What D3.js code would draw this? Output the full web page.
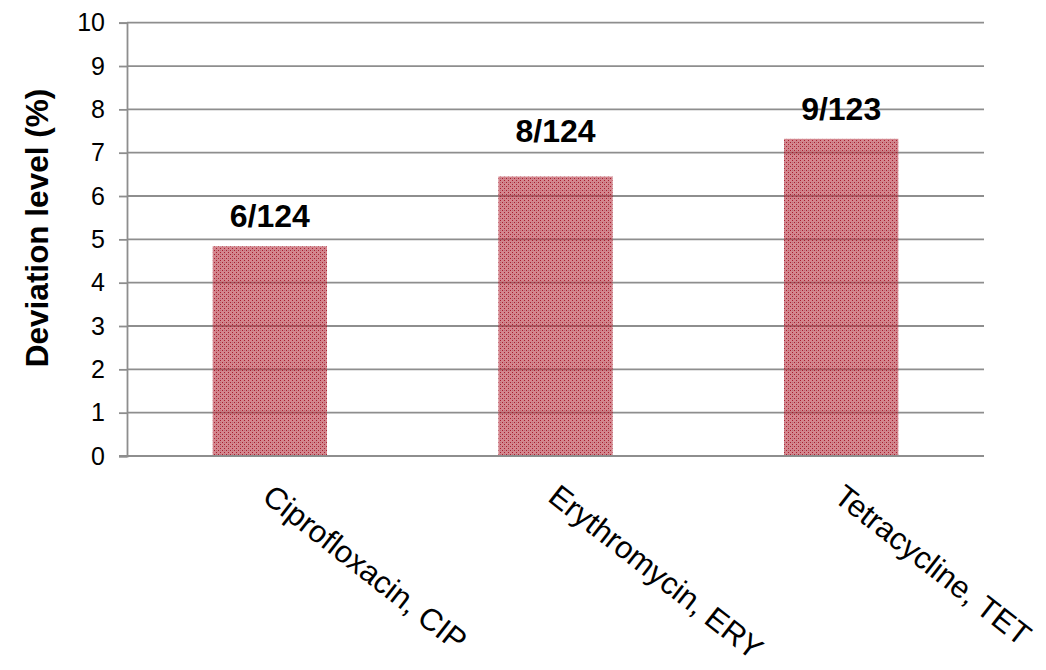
<!DOCTYPE html>
<html>
<head>
<meta charset="utf-8">
<script src="https://cdn.jsdelivr.net/npm/d3@7"></script>
<style>
  html, body { margin: 0; padding: 0; background: #fff; }
  svg { display: block; font-family: "Liberation Sans", Arial, sans-serif; }
</style>
</head>
<body>
<svg id="chart" width="1046" height="670"></svg>
<script>
// ---- data ----
const categories = ["Ciprofloxacin, CIP", "Erythromycin, ERY", "Tetracycline, TET"];
const values = [4.84, 6.45, 7.32];          // deviation level (%)
const barLabels = ["6/124", "8/124", "9/123"];
const yTicks = [0, 1, 2, 3, 4, 5, 6, 7, 8, 9, 10];
const yTitle = "Deviation level (%)";

// ---- layout ----
const labelLift = [19, 35, 19];
const svg = d3.select("#chart");
const plotLeft = 127, plotRight = 984, plotTop = 22.7, plotBottom = 456;

const x = d3.scaleBand().domain(categories).range([plotLeft, plotRight])
  .paddingInner(0.6).paddingOuter(0.3);
const y = d3.scaleLinear().domain([0, 10]).range([plotBottom, plotTop]);

// pattern for bars
const defs = svg.append("defs");
const pat = defs.append("pattern").attr("id", "dots")
  .attr("patternUnits", "userSpaceOnUse").attr("width", 4).attr("height", 4);
pat.append("rect").attr("width", 4).attr("height", 4).attr("fill", "rgb(185,60,72)").attr("fill-opacity", 0.62);
pat.append("rect").attr("x", 0).attr("y", 0).attr("width", 1).attr("height", 1).attr("fill", "rgb(160,10,30)").attr("fill-opacity", 0.85);
pat.append("rect").attr("x", 2).attr("y", 2).attr("width", 1).attr("height", 1).attr("fill", "rgb(160,10,30)").attr("fill-opacity", 0.85);
pat.append("rect").attr("x", 0).attr("y", 2).attr("width", 1).attr("height", 1).attr("fill", "rgb(150,90,95)").attr("fill-opacity", 0.5);

// gridlines
svg.append("g").selectAll("line").data(yTicks.filter(d => d > 0)).join("line")
  .attr("x1", plotLeft).attr("x2", plotRight)
  .attr("y1", d => y(d)).attr("y2", d => y(d))
  .attr("stroke", "#8e8e8e").attr("stroke-width", 1.8);

// bars (semi-transparent so gridlines show through)
svg.append("g").selectAll("rect").data(values).join("rect")
  .attr("x", (d, i) => x(categories[i]))
  .attr("width", x.bandwidth())
  .attr("y", d => y(d))
  .attr("height", d => y(0) - y(d))
  .attr("fill", "url(#dots)");

// y axis
const yAxis = d3.axisLeft(y).tickValues(yTicks).tickSize(8).tickPadding(14).tickFormat(d3.format("d"));
const gy = svg.append("g").attr("transform", `translate(${plotLeft},0)`).call(yAxis);
gy.select(".domain").attr("stroke", "#8e8e8e").attr("stroke-width", 1.8);
gy.selectAll(".tick line").attr("stroke", "#8e8e8e").attr("stroke-width", 1.8);
gy.selectAll(".tick text").attr("fill", "#000").style("font-size", "25px")
  .style("font-family", "'Liberation Sans', Arial, sans-serif");

// x axis baseline
svg.append("line").attr("x1", plotLeft - 8).attr("x2", plotRight)
  .attr("y1", y(0)).attr("y2", y(0))
  .attr("stroke", "#8e8e8e").attr("stroke-width", 1.8);

// x category labels (rotated)
svg.append("g").selectAll("text").data(categories).join("text")
  .attr("transform", d => `translate(${x(d) + x.bandwidth() / 2 - 9},500) rotate(38)`)
  .attr("text-anchor", "start")
  .style("font-size", "31px")
  .attr("fill", "#000")
  .text(d => d);

// bar value labels
svg.append("g").selectAll("text").data(values).join("text")
  .attr("x", (d, i) => x(categories[i]) + x.bandwidth() / 2)
  .attr("y", (d, i) => y(d) - labelLift[i])
  .attr("text-anchor", "middle")
  .style("font-size", "32px").style("font-weight", "bold")
  .attr("fill", "#000")
  .text((d, i) => barLabels[i]);

// y title
svg.append("text")
  .attr("transform", `translate(48,228) rotate(-90)`)
  .attr("text-anchor", "middle")
  .style("font-size", "31.5px").style("font-weight", "bold")
  .attr("fill", "#000")
  .text(yTitle);
</script>
</body>
</html>
